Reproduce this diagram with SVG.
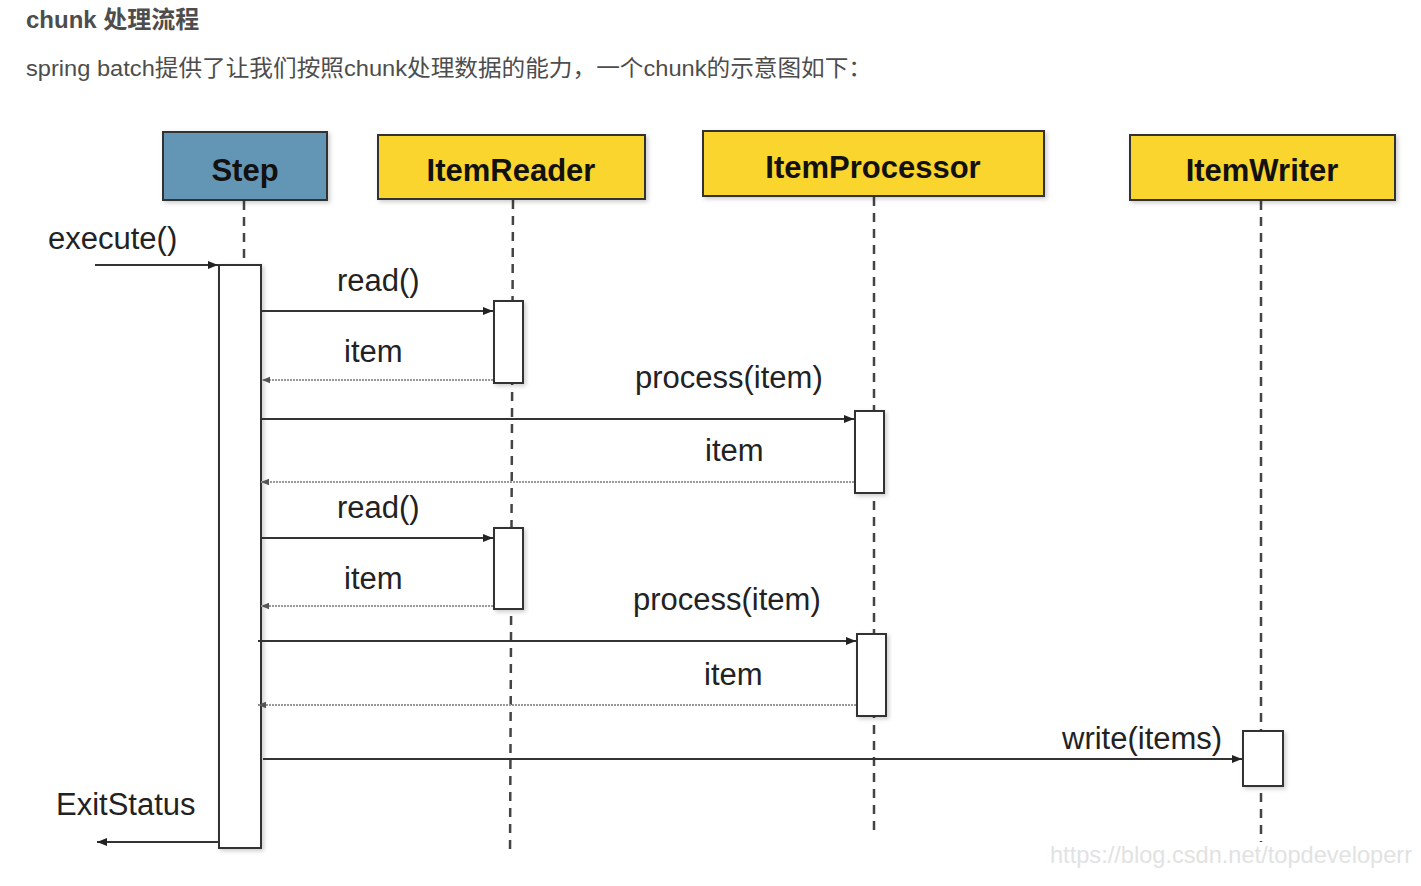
<svg xmlns="http://www.w3.org/2000/svg" width="1421" height="886" viewBox="0 0 1421 886">
<defs>
<style>
.hd{font-family:"Liberation Sans","Noto Sans CJK SC",sans-serif;fill:#4d4d4d}
.box{stroke:#333;stroke-width:2}
.bl{font-family:"Liberation Sans",Arial,sans-serif;font-weight:bold;font-size:31px;fill:#111;text-anchor:middle}
.lb{font-family:"Liberation Sans",Arial,sans-serif;font-size:31px;fill:#222}
.life{stroke:#444;stroke-width:2.5;stroke-dasharray:9 7;fill:none}
.act{fill:#fff;stroke:#333;stroke-width:2}
.call{stroke:#333;stroke-width:2;fill:none;marker-end:url(#ah)}
.ret{stroke:#999;stroke-width:2;stroke-dasharray:2 1;fill:none;marker-end:url(#ah2)}
</style>
<marker id="ah" viewBox="0 0 10 10" refX="10" refY="5" markerWidth="5" markerHeight="5" orient="auto" markerUnits="strokeWidth"><path d="M0,1 L10,5 L0,9 Z" fill="#222"/></marker>
<marker id="ah2" viewBox="0 0 10 10" refX="10" refY="5" markerWidth="4" markerHeight="4" orient="auto" markerUnits="strokeWidth"><path d="M0,1 L10,5 L0,9 Z" fill="#555"/></marker>
<filter id="sh" x="-20%" y="-20%" width="140%" height="140%"><feDropShadow dx="2" dy="2" stdDeviation="2" flood-color="#000" flood-opacity="0.2"/></filter>
</defs>
<rect width="1421" height="886" fill="#fff"/>
<text class="hd" x="26" y="28" font-size="24" font-weight="bold" fill="#3f3f3f">chunk 处理流程</text>
<text class="hd" x="26" y="76" font-size="22.5" textLength="846" lengthAdjust="spacingAndGlyphs">spring batch提供了让我们按照chunk处理数据的能力，一个chunk的示意图如下：</text>

<g id="lifelines">
<line class="life" x1="244" y1="201" x2="244" y2="265"/>
<line class="life" x1="513" y1="200" x2="510" y2="855"/>
<line class="life" x1="874" y1="197" x2="874" y2="832"/>
<line class="life" x1="1261" y1="201" x2="1261" y2="842"/>
</g>

<g id="step"><rect class="box" x="163" y="132" width="164" height="68" fill="#6496b4" filter="url(#sh)"/><text class="bl" x="245" y="181">Step</text></g>
<g id="itemreader"><rect class="box" x="378" y="135" width="267" height="64" fill="#f9d52e" filter="url(#sh)"/><text class="bl" x="511" y="181">ItemReader</text></g>
<g id="itemprocessor"><rect class="box" x="703" y="131" width="341" height="65" fill="#f9d52e" filter="url(#sh)"/><text class="bl" x="873" y="178">ItemProcessor</text></g>
<g id="itemwriter"><rect class="box" x="1130" y="135" width="265" height="65" fill="#f9d52e" filter="url(#sh)"/><text class="bl" x="1262" y="181">ItemWriter</text></g>

<g id="activations">
<rect class="act" x="219" y="265" width="42" height="583" filter="url(#sh)"/>
<rect class="act" x="494" y="301" width="29" height="82" filter="url(#sh)"/>
<rect class="act" x="494" y="528" width="29" height="81" filter="url(#sh)"/>
<rect class="act" x="855" y="411" width="29" height="82" filter="url(#sh)"/>
<rect class="act" x="857" y="634" width="29" height="82" filter="url(#sh)"/>
<rect class="act" x="1243" y="731" width="40" height="55" filter="url(#sh)"/>
</g>

<g id="connectors">
<line class="call" x1="95" y1="265" x2="218" y2="265"/>
<line class="call" x1="262" y1="311" x2="493" y2="311"/>
<line class="ret" x1="493" y1="380" x2="262" y2="380"/>
<line class="call" x1="261" y1="419" x2="854" y2="419"/>
<line class="ret" x1="854" y1="482" x2="261" y2="482"/>
<line class="call" x1="261" y1="538" x2="493" y2="538"/>
<line class="ret" x1="493" y1="606" x2="261" y2="606"/>
<line class="call" x1="258" y1="641" x2="856" y2="641"/>
<line class="ret" x1="856" y1="705" x2="258" y2="705"/>
<line class="call" x1="263" y1="759" x2="1242" y2="759"/>
<line class="call" x1="219" y1="842" x2="97" y2="842"/>
</g>

<g id="labels">
<text class="lb" x="48" y="249">execute()</text>
<text class="lb" x="337" y="291">read()</text>
<text class="lb" x="344" y="362">item</text>
<text class="lb" x="635" y="388">process(item)</text>
<text class="lb" x="705" y="461">item</text>
<text class="lb" x="337" y="518">read()</text>
<text class="lb" x="344" y="589">item</text>
<text class="lb" x="633" y="610">process(item)</text>
<text class="lb" x="704" y="685">item</text>
<text class="lb" x="1062" y="749">write(items)</text>
<text class="lb" x="56" y="815">ExitStatus</text>
</g>
<text x="1050" y="863" font-family="Liberation Sans,Arial,sans-serif" font-size="24" fill="#e2e2e2" textLength="362" lengthAdjust="spacingAndGlyphs">https://blog.csdn.net/topdeveloperr</text>
</svg>
